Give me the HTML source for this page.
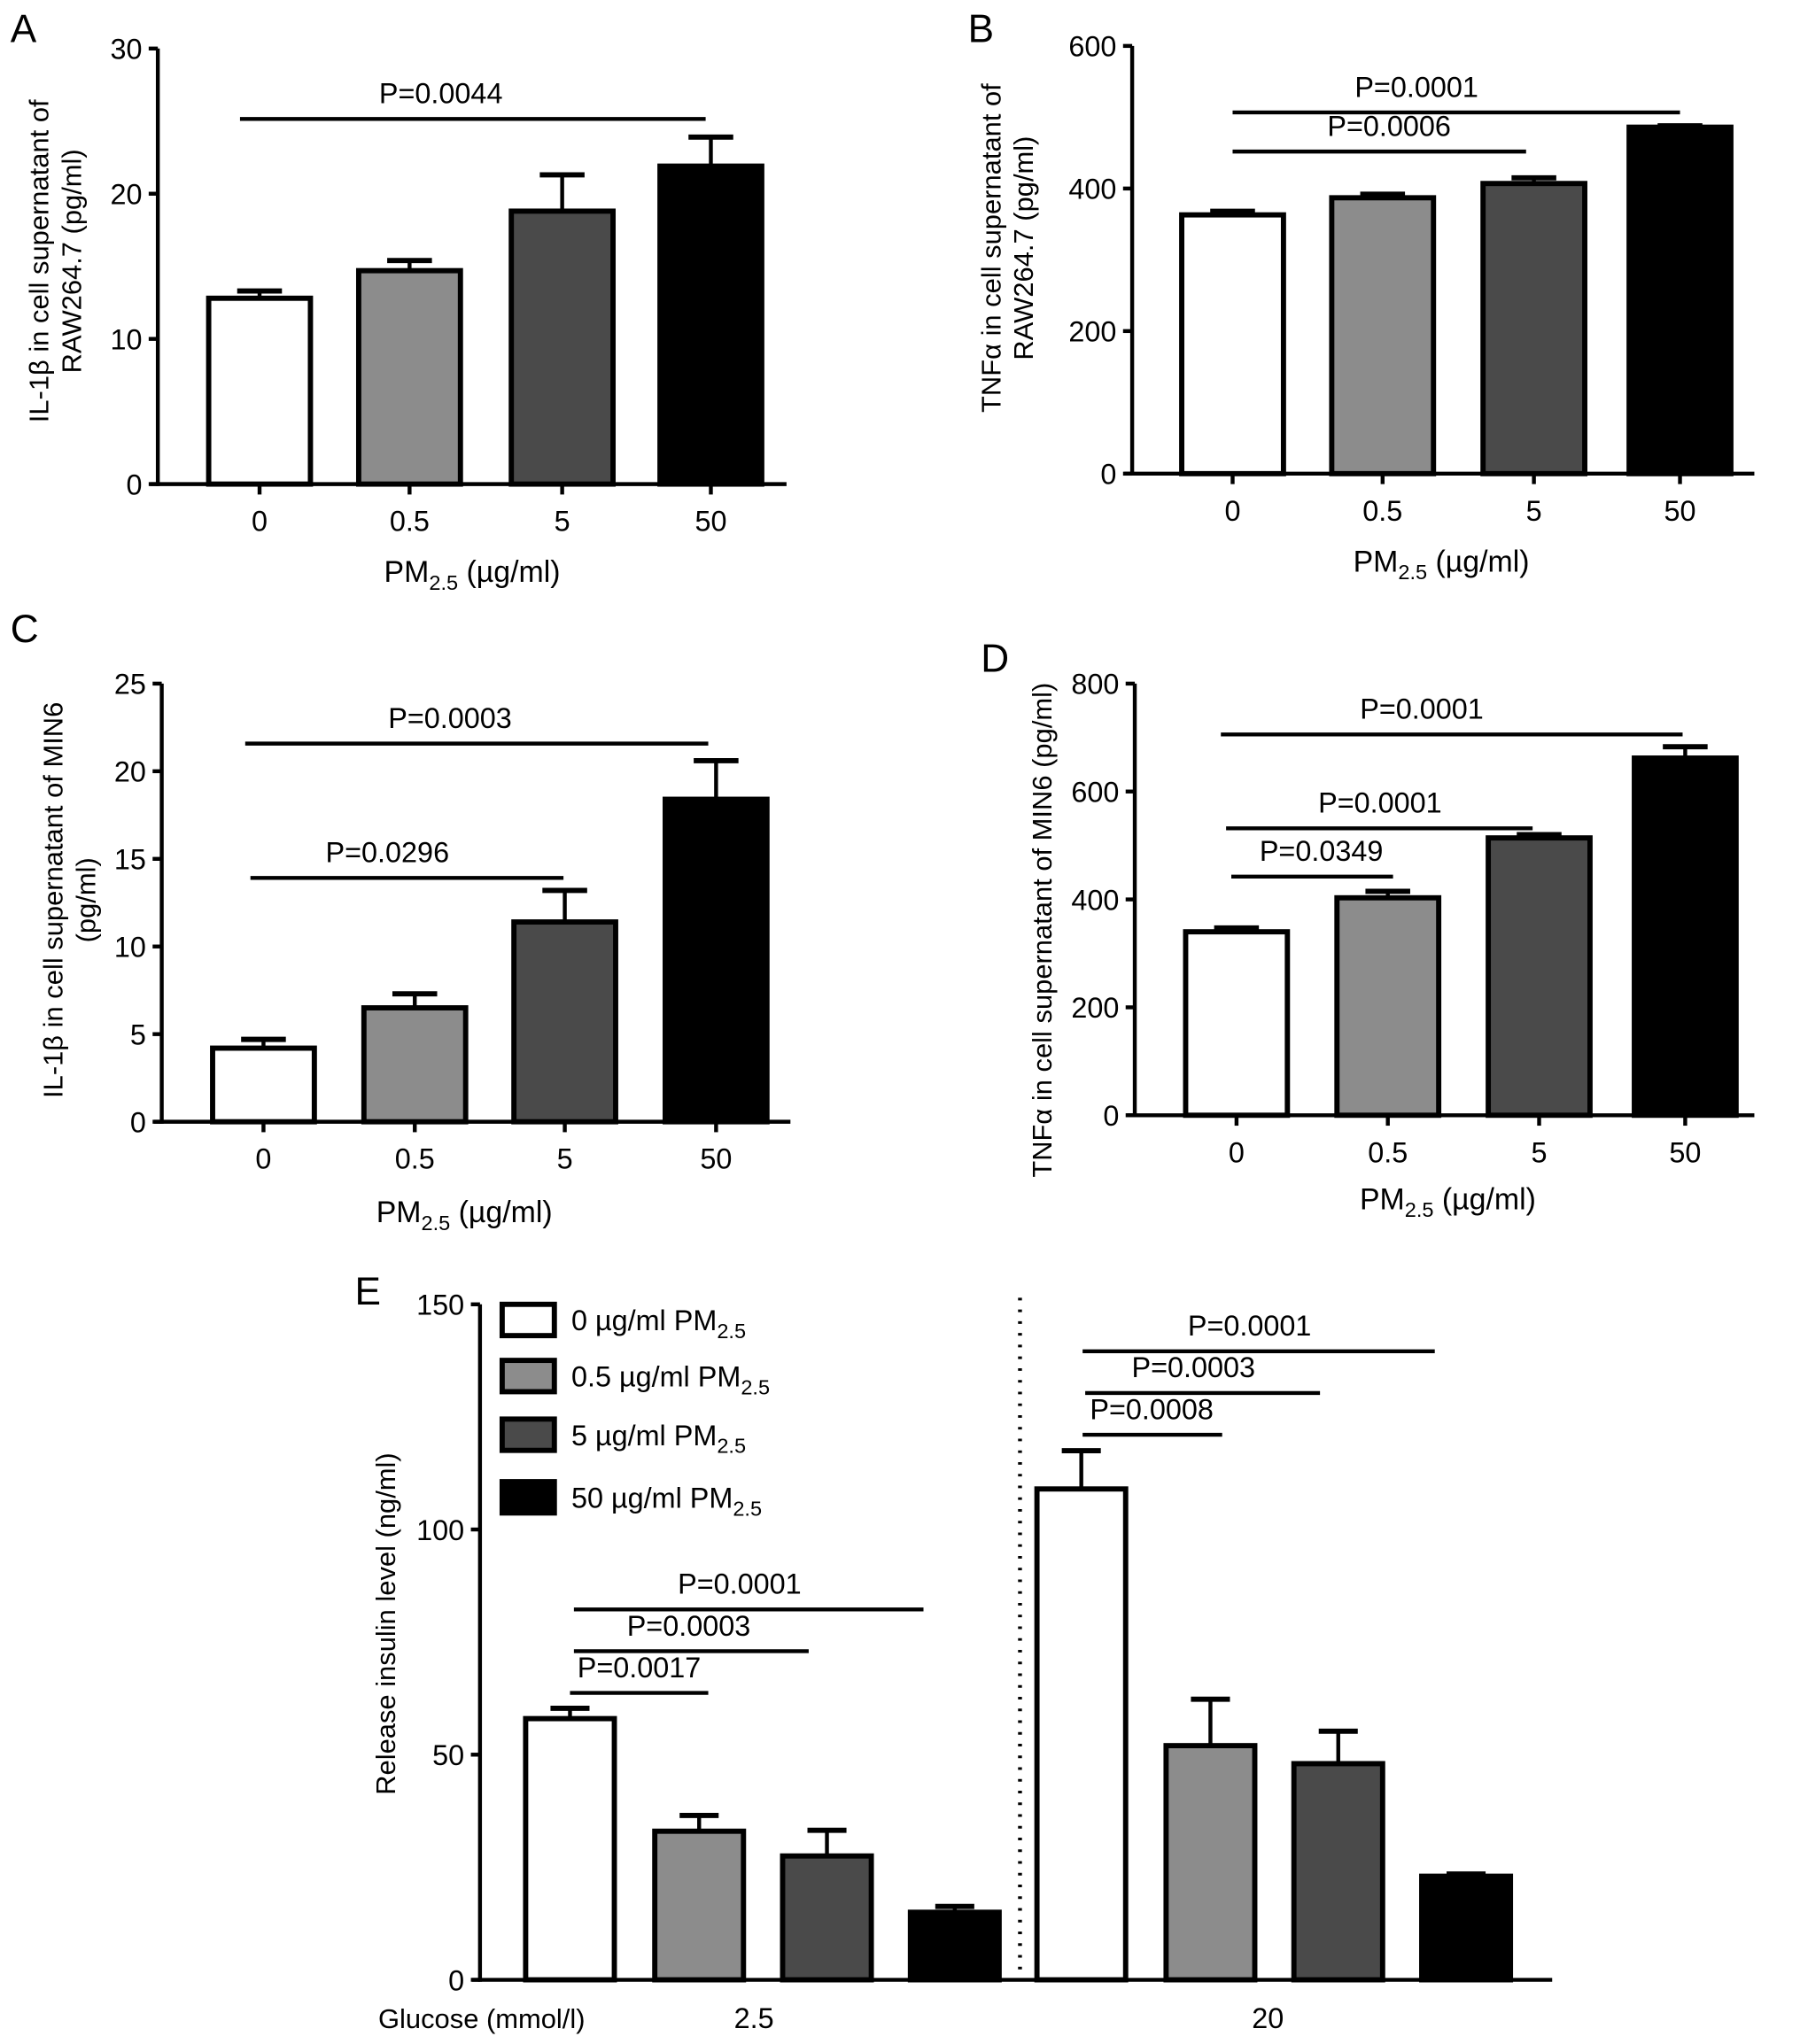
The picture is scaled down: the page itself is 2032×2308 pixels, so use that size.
<!DOCTYPE html>
<html><head><meta charset="utf-8"><style>
html,body{margin:0;padding:0;background:#fff}
svg{display:block}
text{font-family:"Liberation Sans",sans-serif;fill:#000}
</style></head><body>
<svg id="fig" width="2032" height="2308" viewBox="0 0 1380 1567" xmlns="http://www.w3.org/2000/svg"></svg>
<script>
const doseCats = ["0","0.5","5","50"];
const fills = ["#ffffff","#8c8c8c","#4a4a4a","#000000"];
const aVals = [12.8,14.7,18.8,21.9];
const aErr = [13.3,15.4,21.3,23.9];
const aTicks = [0,10,20,30];
const bVals = [363,387,407,486];
const bErr = [368,392,415,488];
const bTicks = [0,200,400,600];
const cVals = [4.2,6.5,11.4,18.4];
const cErr = [4.7,7.3,13.2,20.6];
const cTicks = [0,5,10,15,20,25];
const dVals = [340,403,514,662];
const dErr = [347,415,520,683];
const dTicks = [0,200,400,600,800];
const eGroups = ["2.5","20"];
const eVals25 = [58,33,27.5,15];
const eErr25 = [60.3,36.5,33.2,16.3];
const eVals20 = [109,52,48,23];
const eErr20 = [117.5,62.3,55.2,23.5];
const eTicks = [0,50,100,150];
const legendLabels = ["0 µg/ml PM","0.5 µg/ml PM","5 µg/ml PM","50 µg/ml PM"];

const NS="http://www.w3.org/2000/svg";
const svg=document.getElementById('fig');
function mk(tag,attrs,parent,txt){const e=document.createElementNS(NS,tag);for(const k in attrs)e.setAttribute(k,attrs[k]);if(txt!==undefined)e.textContent=txt;(parent||svg).appendChild(e);return e;}
function line(x1,y1,x2,y2,w,p){return mk('line',{x1,y1,x2,y2,stroke:'#000','stroke-width':w||3},p);}

function panel(o){
  const g=mk('g',{});
  
  
  const y=v=>o.y0-(v-o.min)/(o.max-o.min)*(o.y0-o.yTop);
  const ax=line(o.ax,o.yTop,o.ax,o.y0+1.5,3,g);
  
  
  const xa=line(o.ax-6,o.y0,o.axEnd,o.y0,3,g);
  
  
  o.ticks.forEach(t=>{line(o.ax-7,y(t),o.ax,y(t),3,g);
    const tl=mk('text',{x:o.ax-12,y:y(t)+8,'text-anchor':'end','font-size':22},g,t);
    
    });
  o.vals.forEach((v,i)=>{
    const cx=o.cx[i],w=o.bw;
    line(cx,y(v),cx,y(o.err[i]),3,g);
    line(cx-w*0.22,y(o.err[i]),cx+w*0.22,y(o.err[i]),4,g);
    const r=mk('rect',{x:cx-w/2,y:y(v),width:w,height:o.y0-y(v),fill:fills[i%4],stroke:'#000','stroke-width':4},g);
    
    
    if(o.cats){line(cx,o.y0,cx,o.y0+8,3,g);
      const tl=mk('text',{x:cx,y:o.y0+36,'text-anchor':'middle','font-size':22},g,o.cats[i]);
      
      }
  });
  o.sig.forEach(s=>{line(s[0],s[2],s[1],s[2],3,g);
    const t=mk('text',{x:s[3],y:s[2]-12,'text-anchor':'middle','font-size':22},g,s[4]);
    
    });
  if(o.xtitle){const t=mk('text',{x:o.xtitle[0],y:o.xtitle[1],'text-anchor':'middle','font-size':23},g);
    
    
    t.innerHTML='PM<tspan font-size="16" dy="6">2.5</tspan><tspan dy="-6"> (µg/ml)</tspan>';}
  o.ylab.forEach(l=>{const t=mk('text',{transform:`translate(${l[0]},${l[1]}) rotate(-90)`,'text-anchor':'middle','font-size':21},g,l[2]);
    
    });
  const L=mk('text',{x:o.label[0],y:o.label[1],'font-size':30},g,o.label[2]);
  
  
  return {g,y};
}

panel({name:'panel-a',ax:121,yTop:37,y0:371,axEnd:603,min:0,max:30,ticks:aTicks,vals:aVals,err:aErr,cats:doseCats,
  cx:[199,314,431,545],bw:78,sig:[[184,541,91,338,'P=0.0044']],xtitle:[362,446],
  ylab:[[37,200,'IL-1β in cell supernatant of'],[62,200,'RAW264.7 (pg/ml)']],label:[8,32,'A']});
panel({name:'panel-b',ax:868,yTop:35,y0:363,axEnd:1345,min:0,max:600,ticks:bTicks,vals:bVals,err:bErr,cats:doseCats,
  cx:[945,1060,1176,1288],bw:78,sig:[[945,1288,86,1086,'P=0.0001'],[945,1170,116,1065,'P=0.0006']],xtitle:[1105,438],
  ylab:[[767,190,'TNFα in cell supernatant of'],[792,190,'RAW264.7 (pg/ml)']],label:[742,32,'B']});
panel({name:'panel-c',ax:124,yTop:524,y0:860,axEnd:606,min:0,max:25,ticks:cTicks,vals:cVals,err:cErr,cats:doseCats,
  cx:[202,318,433,549],bw:78,sig:[[188,543,570,345,'P=0.0003'],[192,432,673,297,'P=0.0296']],xtitle:[356,937],
  ylab:[[48,690,'IL-1β in cell supernatant of MIN6'],[73,690,'(pg/ml)']],label:[8,492,'C']});
panel({name:'panel-d',ax:870,yTop:524,y0:855,axEnd:1345,min:0,max:800,ticks:dTicks,vals:dVals,err:dErr,cats:doseCats,
  cx:[948,1064,1180,1292],bw:78,sig:[[936,1290,563,1090,'P=0.0001'],[940,1175,635,1058,'P=0.0001'],[944,1068,672,1013,'P=0.0349']],xtitle:[1110,927],
  ylab:[[806,713,'TNFα in cell supernatant of MIN6 (pg/ml)']],label:[752,515,'D']});

const eAll=eVals25.concat(eVals20), eErrAll=eErr25.concat(eErr20);
const pe=panel({name:'panel-e',ax:368,yTop:1000,y0:1518,axEnd:1190,min:0,max:150,ticks:eTicks,vals:eAll,err:eErrAll,cats:null,
  cx:[437,536,634,732,829,928,1026,1124],bw:68,
  sig:[[440,708,1234,567,'P=0.0001'],[440,620,1266,528,'P=0.0003'],[437,543,1298,490,'P=0.0017'],
       [830,1100,1036,958,'P=0.0001'],[832,1012,1068,915,'P=0.0003'],[830,937,1100,883,'P=0.0008']],
  xtitle:null,ylab:[[303,1245,'Release insulin level (ng/ml)']],label:[272,1000,'E']});
const dl=mk('line',{x1:782,y1:995,x2:782,y2:1518,stroke:'#000','stroke-width':3,'stroke-dasharray':'2,7'},pe.g);


const gl=mk('text',{x:290,y:1555,'font-size':21},pe.g,'Glucose (mmol/l)');


[578,972].forEach((x,i)=>{const t=mk('text',{x,y:1555,'text-anchor':'middle','font-size':22},pe.g,eGroups[i]);
  
  });
const ly=[1012,1055,1100,1148];
legendLabels.forEach((l,i)=>{
  const r=mk('rect',{x:385,y:ly[i]-12,width:40,height:24,fill:fills[i],stroke:'#000','stroke-width':4},pe.g);
  
  
  const t=mk('text',{x:438,y:ly[i]+8,'font-size':22},pe.g);
  
  
  t.innerHTML=l+'<tspan font-size="16" dy="6">2.5</tspan>';
});
</script>
</body></html>
